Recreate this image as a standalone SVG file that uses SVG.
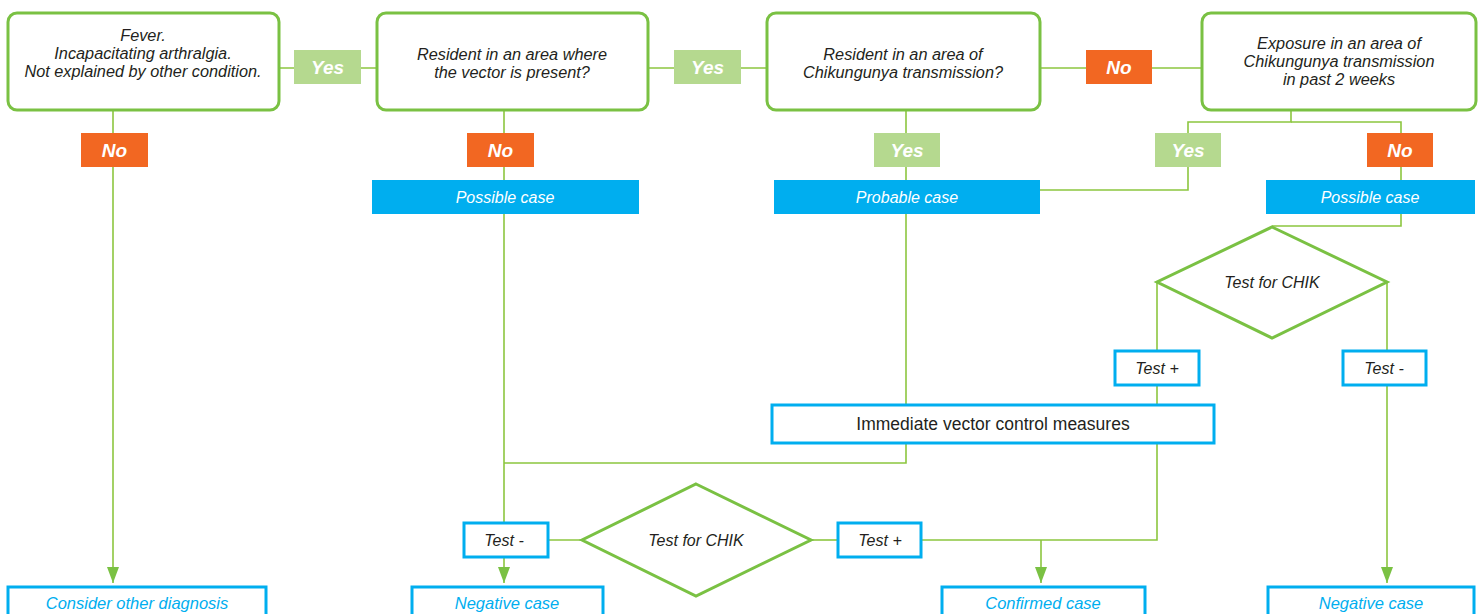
<svg xmlns="http://www.w3.org/2000/svg" width="1481" height="614" viewBox="0 0 1481 614">
<style>
.q{fill:#fff;stroke:#7ac143;stroke-width:3}
.qt{font-family:"Liberation Sans",Arial,sans-serif;font-style:italic;font-size:16.3px;fill:#231f20;text-anchor:middle}
.yes{fill:#b5d98f}
.no{fill:#f26722}
.lt{font-family:"Liberation Sans",Arial,sans-serif;font-style:italic;font-weight:bold;font-size:19px;fill:#fff;text-anchor:middle}
.bf{fill:#00aeef}
.bft{font-family:"Liberation Sans",Arial,sans-serif;font-style:italic;font-size:16px;fill:#fff;text-anchor:middle}
.bo{fill:#fff;stroke:#00aeef;stroke-width:3}
.bot{font-family:"Liberation Sans",Arial,sans-serif;font-style:italic;font-size:16.5px;fill:#00aeef;text-anchor:middle}
.tt{font-family:"Liberation Sans",Arial,sans-serif;font-style:italic;font-size:16px;fill:#231f20;text-anchor:middle}
.nt{font-family:"Liberation Sans",Arial,sans-serif;font-size:17.5px;fill:#231f20;text-anchor:middle}
.dm{fill:#fff;stroke:#7ac143;stroke-width:3}
.c{fill:none;stroke:#8cc63f;stroke-width:1.6}
</style>
<defs>
<marker id="arr" markerUnits="userSpaceOnUse" markerWidth="18" markerHeight="14" refX="16" refY="7" orient="auto" viewBox="0 0 18 14">
<path d="M0,1 L16,7 L0,13 Z" fill="#7ac143"/>
</marker>
</defs>
<g id="connectors">
<path class="c" d="M279,68 H377"/>
<path class="c" d="M648,68 H767"/>
<path class="c" d="M1040,68 H1202"/>
<path class="c" d="M113,110 V583" marker-end="url(#arr)"/>
<path class="c" d="M504,110 V522"/>
<path class="c" d="M504,557 V583" marker-end="url(#arr)"/>
<path class="c" d="M548,540 H582"/>
<path class="c" d="M811,540 H838"/>
<path class="c" d="M921,540 H1157 V443"/>
<path class="c" d="M1041,540 V583" marker-end="url(#arr)"/>
<path class="c" d="M906,110 V404"/>
<path class="c" d="M906,443 V463 H504"/>
<path class="c" d="M1291,110 V122 H1188 V190 H1040"/>
<path class="c" d="M1291,122 H1401 V181"/>
<path class="c" d="M1401,214 V226 H1272"/>
<path class="c" d="M1157,282 V350"/>
<path class="c" d="M1157,385 V404"/>
<path class="c" d="M1387,282 V350"/>
<path class="c" d="M1387,385 V583" marker-end="url(#arr)"/>
</g>
<g id="q1"><rect class="q" x="8" y="13" width="271" height="97" rx="9"/>
<text class="qt" x="143" y="41">Fever.</text>
<text class="qt" x="143" y="59">Incapacitating arthralgia.</text>
<text class="qt" x="143" y="77">Not explained by other condition.</text></g>
<g id="q2"><rect class="q" x="377" y="13" width="271" height="97" rx="9"/>
<text class="qt" x="512" y="60">Resident in an area where</text>
<text class="qt" x="512" y="78">the vector is present?</text></g>
<g id="q3"><rect class="q" x="767" y="13" width="273" height="97" rx="9"/>
<text class="qt" x="903" y="60">Resident in an area of</text>
<text class="qt" x="903" y="78">Chikungunya transmission?</text></g>
<g id="q4"><rect class="q" x="1202" y="13" width="274" height="97" rx="9"/>
<text class="qt" x="1339" y="49">Exposure in an area of</text>
<text class="qt" x="1339" y="67">Chikungunya transmission</text>
<text class="qt" x="1339" y="85">in past 2 weeks</text></g>
<g id="yes1"><rect class="yes" x="294" y="50" width="67" height="34"/><text class="lt" x="327.5" y="74">Yes</text></g>
<g id="yes2"><rect class="yes" x="674" y="50" width="67" height="34"/><text class="lt" x="707.5" y="74">Yes</text></g>
<g id="no3"><rect class="no" x="1086" y="50" width="66" height="34"/><text class="lt" x="1119" y="74">No</text></g>
<g id="no1"><rect class="no" x="81" y="133" width="67" height="34"/><text class="lt" x="114.5" y="157">No</text></g>
<g id="no2"><rect class="no" x="467" y="133" width="67" height="34"/><text class="lt" x="500.5" y="157">No</text></g>
<g id="yes3"><rect class="yes" x="874" y="133" width="66" height="34"/><text class="lt" x="907" y="157">Yes</text></g>
<g id="yes4"><rect class="yes" x="1155" y="133" width="66" height="34"/><text class="lt" x="1188" y="157">Yes</text></g>
<g id="no4"><rect class="no" x="1367" y="133" width="66" height="34"/><text class="lt" x="1400" y="157">No</text></g>
<g id="possible1"><rect class="bf" x="372" y="180" width="267" height="34"/><text class="bft" x="505" y="203">Possible case</text></g>
<g id="probable"><rect class="bf" x="774" y="180" width="266" height="34"/><text class="bft" x="907" y="203">Probable case</text></g>
<g id="possible2"><rect class="bf" x="1266" y="180" width="209" height="34"/><text class="bft" x="1370" y="203">Possible case</text></g>
<g id="test2"><path class="dm" d="M1272,227 L1387,282 L1272,338 L1157,282 Z"/><text class="tt" x="1272" y="288">Test for CHIK</text></g>
<g id="testplus2"><rect class="bo" x="1115" y="351" width="84" height="34"/><text class="tt" x="1157" y="374">Test +</text></g>
<g id="testminus2"><rect class="bo" x="1343" y="351" width="83" height="34"/><text class="tt" x="1384" y="374">Test -</text></g>
<g id="vector"><rect class="bo" x="772" y="405" width="442" height="38"/><text class="nt" x="993" y="430">Immediate vector control measures</text></g>
<g id="test1"><path class="dm" d="M696,484 L811,540 L696,596 L582,540 Z"/><text class="tt" x="696" y="546">Test for CHIK</text></g>
<g id="testminus1"><rect class="bo" x="464" y="523" width="84" height="34"/><text class="tt" x="504" y="546">Test -</text></g>
<g id="testplus1"><rect class="bo" x="838" y="523" width="83" height="34"/><text class="tt" x="880" y="546">Test +</text></g>
<g id="other"><rect class="bo" x="8" y="587" width="258" height="40"/><text class="bot" x="137" y="609">Consider other diagnosis</text></g>
<g id="neg1"><rect class="bo" x="412" y="587" width="191" height="40"/><text class="bot" x="507" y="609">Negative case</text></g>
<g id="confirmed"><rect class="bo" x="942" y="587" width="203" height="40"/><text class="bot" x="1043" y="609">Confirmed case</text></g>
<g id="neg2"><rect class="bo" x="1268" y="587" width="206" height="40"/><text class="bot" x="1371" y="609">Negative case</text></g>
</svg>
